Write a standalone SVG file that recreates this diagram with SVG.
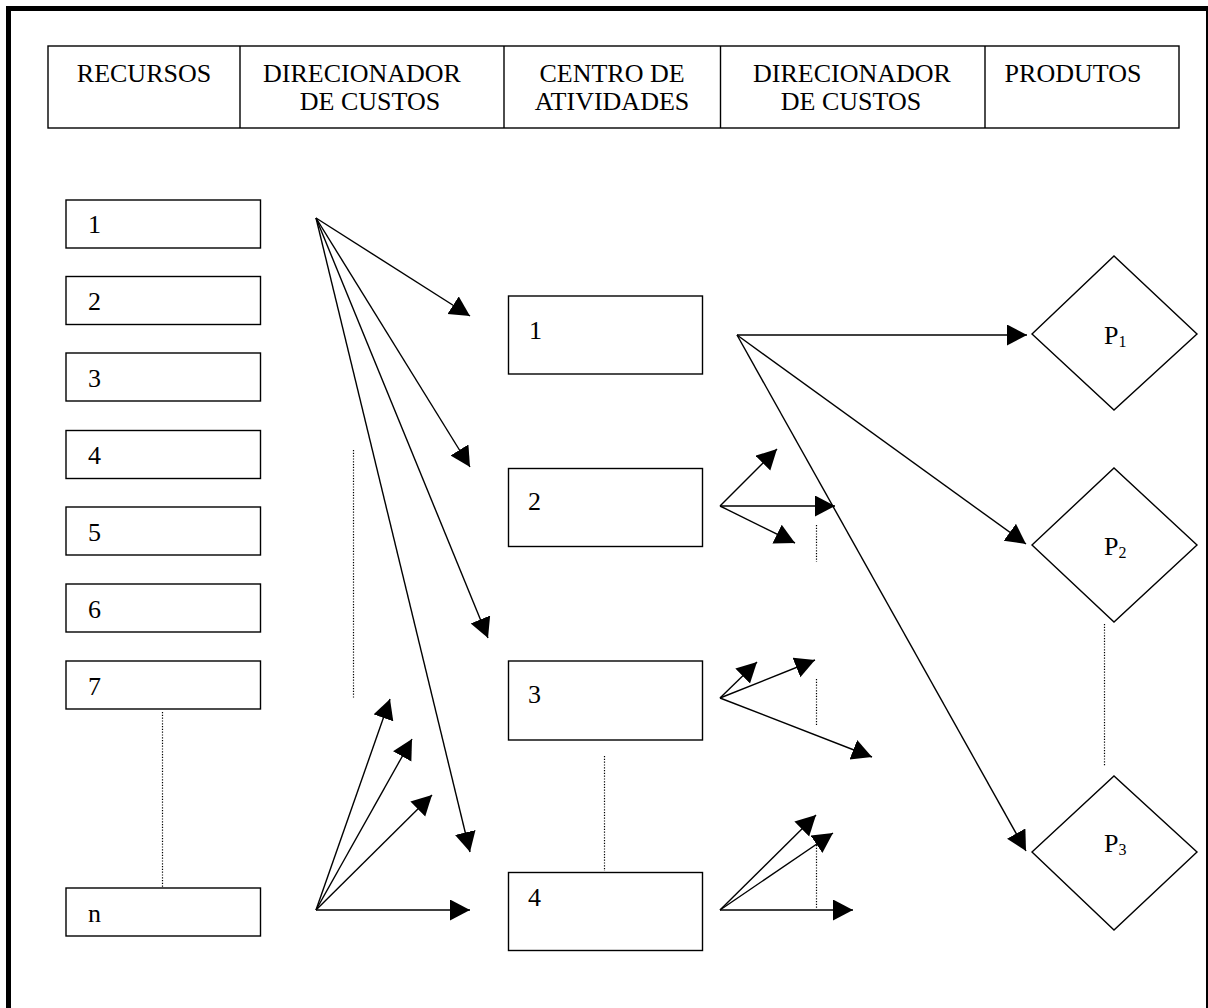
<svg xmlns="http://www.w3.org/2000/svg" width="1208" height="1008" viewBox="0 0 1208 1008">
<style>
.t{font-family:"Liberation Serif","Times New Roman",serif;font-size:26px;fill:#000}
.st{font-size:16px}
.box{fill:#fff;stroke:#000;stroke-width:1.4}
.ln{stroke:#000;stroke-width:1.4;fill:none}
.ar{stroke:#000;stroke-width:1.4;fill:none;marker-end:url(#ah)}
.dot{stroke:#000;stroke-width:1.2;stroke-dasharray:1.2,1.6;fill:none}
</style>
<defs>
<marker id="ah" markerUnits="userSpaceOnUse" markerWidth="22" markerHeight="22" refX="20" refY="10.5" orient="auto">
<path d="M0,0 L20,10.5 L0,21 z" fill="#000"/>
</marker>
</defs>
<rect x="0" y="0" width="1208" height="1008" fill="#fff"/>
<rect x="8.5" y="8.5" width="1200" height="1100" fill="none" stroke="#000" stroke-width="5"/>

<g id="header">
<rect x="48" y="46" width="1131" height="82" class="box"/>
<line x1="240" y1="46" x2="240" y2="128" class="ln"/>
<line x1="504" y1="46" x2="504" y2="128" class="ln"/>
<line x1="720.5" y1="46" x2="720.5" y2="128" class="ln"/>
<line x1="985" y1="46" x2="985" y2="128" class="ln"/>
<text class="t" x="144" y="82" text-anchor="middle">RECURSOS</text>
<text class="t" x="362" y="82" text-anchor="middle">DIRECIONADOR</text>
<text class="t" x="370" y="110" text-anchor="middle">DE CUSTOS</text>
<text class="t" x="612" y="82" text-anchor="middle">CENTRO DE</text>
<text class="t" x="612" y="110" text-anchor="middle">ATIVIDADES</text>
<text class="t" x="852" y="82" text-anchor="middle">DIRECIONADOR</text>
<text class="t" x="851" y="110" text-anchor="middle">DE CUSTOS</text>
<text class="t" x="1073" y="82" text-anchor="middle">PRODUTOS</text>
</g>

<g id="r1"><rect x="66" y="200" width="194.5" height="48" class="box"/><text class="t" x="88" y="233">1</text></g>
<g id="r2"><rect x="66" y="276.5" width="194.5" height="48" class="box"/><text class="t" x="88" y="310">2</text></g>
<g id="r3"><rect x="66" y="353" width="194.5" height="48" class="box"/><text class="t" x="88" y="387">3</text></g>
<g id="r4"><rect x="66" y="430.5" width="194.5" height="48" class="box"/><text class="t" x="88" y="464">4</text></g>
<g id="r5"><rect x="66" y="507" width="194.5" height="48" class="box"/><text class="t" x="88" y="541">5</text></g>
<g id="r6"><rect x="66" y="584" width="194.5" height="48" class="box"/><text class="t" x="88" y="618">6</text></g>
<g id="r7"><rect x="66" y="661" width="194.5" height="48" class="box"/><text class="t" x="88" y="695">7</text></g>
<g id="rn"><rect x="66" y="888" width="194.5" height="48" class="box"/><text class="t" x="88" y="922">n</text></g>

<g id="a1"><rect x="508.5" y="296" width="194" height="78" class="box"/><text class="t" x="529" y="339">1</text></g>
<g id="a2"><rect x="508.5" y="468.5" width="194" height="78" class="box"/><text class="t" x="528" y="510">2</text></g>
<g id="a3"><rect x="508.5" y="661" width="194" height="79" class="box"/><text class="t" x="528" y="703">3</text></g>
<g id="a4"><rect x="508.5" y="872.5" width="194" height="78" class="box"/><text class="t" x="528" y="906">4</text></g>

<g id="p1"><polygon points="1032,334 1114,256 1197,334 1114,410" class="box"/><text class="t" x="1104" y="344">P<tspan class="st" dy="3">1</tspan></text></g>
<g id="p2"><polygon points="1032,545 1114,468 1197,545 1114,622" class="box"/><text class="t" x="1104" y="555">P<tspan class="st" dy="3">2</tspan></text></g>
<g id="p3"><polygon points="1032,852 1114,776 1197,852 1114,930" class="box"/><text class="t" x="1104" y="852">P<tspan class="st" dy="3">3</tspan></text></g>

<g id="connectors">
<path class="dot" d="M162.5,712 V888"/>
<path class="dot" d="M353.5,450 V699"/>
<path class="dot" d="M604.5,756 V871"/>
<path class="dot" d="M816.5,525 V562"/>
<path class="dot" d="M816.5,679 V725"/>
<path class="dot" d="M816.5,845 V908"/>
<path class="dot" d="M1104.5,624 V766"/>

<line class="ar" x1="316" y1="218" x2="470" y2="316"/>
<line class="ar" x1="316" y1="218" x2="470" y2="467"/>
<line class="ar" x1="316" y1="218" x2="488" y2="638"/>
<line class="ar" x1="316" y1="218" x2="470" y2="852"/>

<line class="ar" x1="316" y1="910" x2="390" y2="699"/>
<line class="ar" x1="316" y1="910" x2="412" y2="739"/>
<line class="ar" x1="316" y1="910" x2="432" y2="795"/>
<line class="ar" x1="316" y1="910" x2="470" y2="910"/>

<line class="ar" x1="737" y1="335" x2="1027" y2="335"/>
<line class="ar" x1="737" y1="335" x2="1026" y2="544"/>
<line class="ar" x1="737" y1="335" x2="1026" y2="851"/>

<line class="ar" x1="720" y1="506" x2="777" y2="449"/>
<line class="ar" x1="720" y1="506" x2="835" y2="506"/>
<line class="ar" x1="720" y1="506" x2="795" y2="543"/>

<line class="ar" x1="720" y1="698" x2="757" y2="662"/>
<line class="ar" x1="720" y1="698" x2="815" y2="660"/>
<line class="ar" x1="720" y1="698" x2="872" y2="757"/>

<line class="ar" x1="720" y1="910" x2="816" y2="815"/>
<line class="ar" x1="720" y1="910" x2="833" y2="833"/>
<line class="ar" x1="720" y1="910" x2="853" y2="910"/>
</g>
</svg>
